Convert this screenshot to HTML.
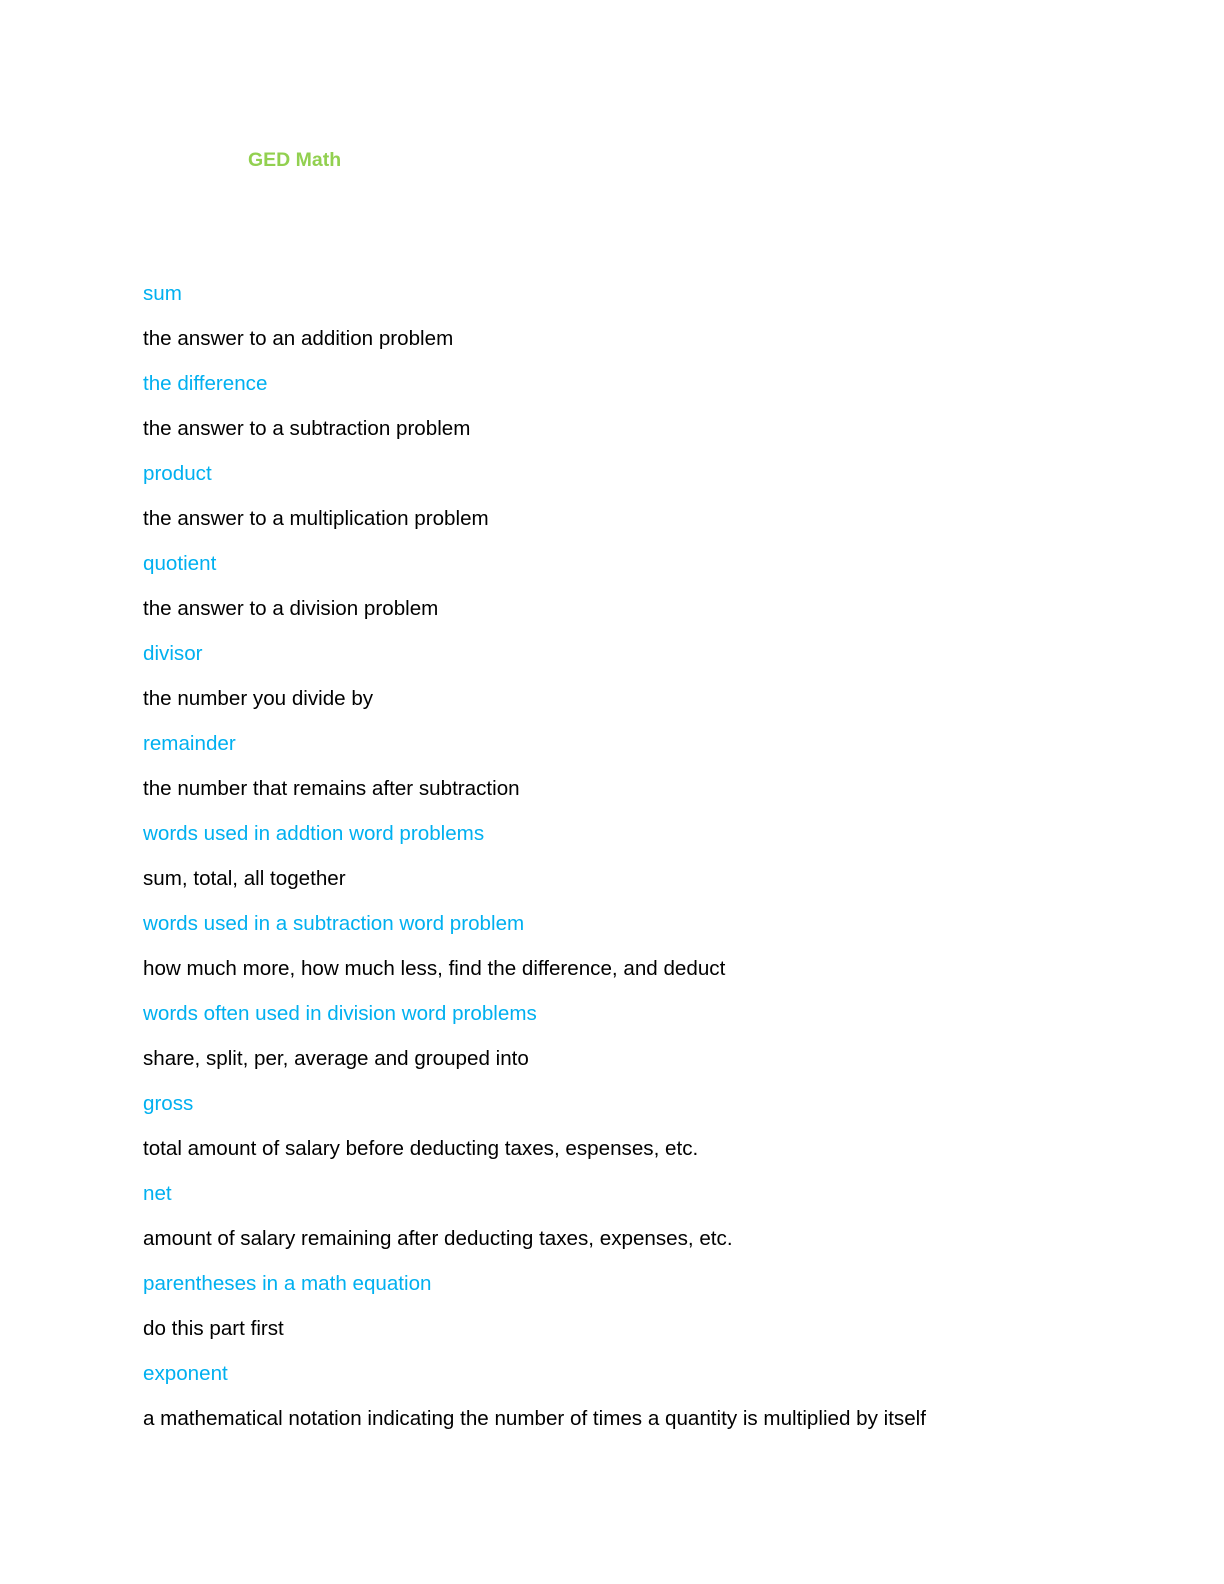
<!DOCTYPE html>
<html><head><meta charset="utf-8"><style>
html,body{margin:0;padding:0;background:#fff;width:1224px;height:1584px;overflow:hidden}
body{position:relative;font-family:"Liberation Sans",sans-serif;font-size:20.6px}
div{position:absolute;left:143px;line-height:24px;white-space:nowrap;color:#000;margin-top:4px}
.b{color:#00b0f0}
.t{color:#92d050;font-weight:bold;left:248px;font-size:19.5px}
</style></head><body>
<div class="t" style="top:144px">GED Math</div>
<div class="b" style="top:278px">sum</div>
<div style="top:323px">the answer to an addition problem</div>
<div class="b" style="top:368px">the difference</div>
<div style="top:413px">the answer to a subtraction problem</div>
<div class="b" style="top:458px">product</div>
<div style="top:503px">the answer to a multiplication problem</div>
<div class="b" style="top:548px">quotient</div>
<div style="top:593px">the answer to a division problem</div>
<div class="b" style="top:638px">divisor</div>
<div style="top:683px">the number you divide by</div>
<div class="b" style="top:728px">remainder</div>
<div style="top:773px">the number that remains after subtraction</div>
<div class="b" style="top:818px">words used in addtion word problems</div>
<div style="top:863px">sum, total, all together</div>
<div class="b" style="top:908px">words used in a subtraction word problem</div>
<div style="top:953px">how much more, how much less, find the difference, and deduct</div>
<div class="b" style="top:998px">words often used in division word problems</div>
<div style="top:1043px">share, split, per, average and grouped into</div>
<div class="b" style="top:1088px">gross</div>
<div style="top:1133px">total amount of salary before deducting taxes, espenses, etc.</div>
<div class="b" style="top:1178px">net</div>
<div style="top:1223px">amount of salary remaining after deducting taxes, expenses, etc.</div>
<div class="b" style="top:1268px">parentheses in a math equation</div>
<div style="top:1313px">do this part first</div>
<div class="b" style="top:1358px">exponent</div>
<div style="top:1403px">a mathematical notation indicating the number of times a quantity is multiplied by itself</div>
</body></html>
